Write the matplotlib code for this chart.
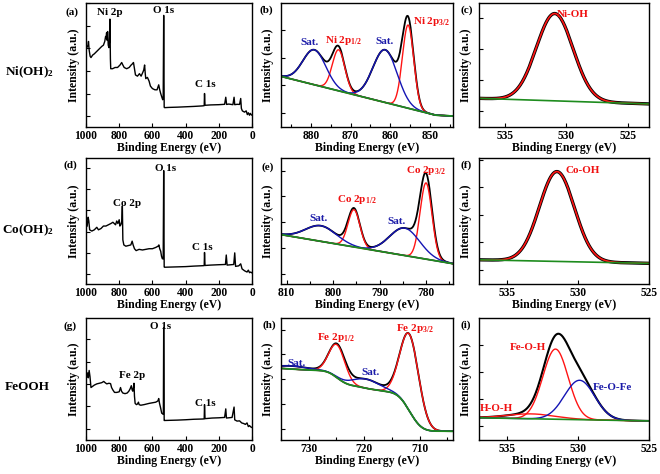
import numpy as np
import matplotlib.pyplot as plt
from matplotlib.ticker import MultipleLocator

plt.rcParams['font.family'] = ['Liberation Serif', 'DejaVu Serif']
plt.rcParams['font.weight'] = 'bold'
plt.rcParams['axes.labelweight'] = 'bold'
plt.rcParams['mathtext.fontset'] = 'custom'
plt.rcParams['mathtext.rm'] = 'Liberation Serif:bold'
plt.rcParams['mathtext.it'] = 'Liberation Serif:italic:bold'
plt.rcParams['mathtext.bf'] = 'Liberation Serif:bold'
plt.rcParams['mathtext.default'] = 'rm'

# ---- survey spectra (binding energy, intensity 0-100 of axis height) ----
a_be = [1000, 995, 988, 985, 981, 975, 970, 960, 950, 935, 920, 905, 895, 887, 882, 879, 876, 873,
        870, 866, 862, 859, 856, 853, 851, 840, 825, 810, 795, 785, 778, 770, 755, 740, 728, 720,
        714, 708, 702, 690, 678, 668, 658, 652, 647, 643, 640, 630, 620, 612, 600, 585, 572, 562,
        556, 550, 543, 538, 535, 532, 529, 527, 500, 450, 400, 350, 300, 288, 286, 283, 250, 200,
        165, 158, 153, 140, 115, 108, 104, 90, 75, 68, 64, 58, 45, 35, 28, 22, 15, 10, 5, 0]
a_int = [63, 64, 66, 69, 62, 57, 56, 58, 59, 61, 63, 65, 66, 69, 73, 72, 76, 70,
         77, 66, 64, 68, 87, 55, 47, 47, 48, 48, 50, 52, 50, 48, 47, 48, 50, 51,
         52, 47, 42, 41, 43, 41, 44, 46, 50, 43, 39, 40, 37, 33, 31, 30, 30, 34,
         30, 27, 24, 22, 23, 90, 16, 15.6, 15.8, 16, 16.3, 16.6, 17, 17.2, 27, 17.5, 17.8, 18,
         18.3, 24, 18.2, 18.5, 18, 24, 18, 18.3, 18.2, 23, 15, 13, 12, 13, 10, 11.5, 9.5, 11, 10, 9.5]

d_be = [1000, 993, 987, 983, 978, 965, 950, 935, 925, 910, 895, 880, 865, 850, 838, 830, 822, 815,
        808, 800, 796, 790, 784, 781, 778, 772, 760, 745, 730, 722, 716, 708, 698, 680, 660, 640,
        620, 600, 580, 566, 561, 556, 550, 545, 540, 535, 532, 529, 527, 450, 400, 350, 300, 288,
        286, 283, 250, 200, 160, 155, 150, 110, 104, 99, 80, 68, 60, 45, 30, 22, 15, 8, 0]
d_int = [45, 46, 53, 50, 43, 42, 43, 45, 43, 44, 46, 46, 47, 48, 49, 48, 47, 50,
         48, 51, 46, 47, 50, 62, 35, 31, 30, 30.5, 31, 34, 31, 28, 26.5, 27.5, 27, 27.5,
         28, 28, 29, 30, 31, 28, 26, 22, 20, 20, 90, 13.5, 13.3, 13.6, 13.8, 14.2, 14.5, 14.6,
         25, 14.7, 15, 15.3, 15.5, 23, 15, 15.5, 24.7, 14, 14.4, 16, 12, 10.5, 9.5, 11, 9, 9.5, 8.8]

g_be = [1000, 995, 990, 986, 981, 976, 970, 960, 950, 935, 920, 905, 893, 885, 875, 862, 852, 846,
        838, 828, 815, 800, 792, 786, 778, 765, 752, 742, 734, 727, 722, 718, 714, 711, 708, 704,
        696, 690, 684, 680, 670, 650, 620, 600, 580, 567, 562, 557, 550, 544, 538, 534, 532, 529,
        527, 450, 400, 350, 300, 288, 286, 283, 240, 200, 165, 158, 154, 120, 108, 104, 90, 75,
        62, 50, 40, 30, 22, 15, 8, 0]
g_int = [50, 52, 55, 51, 57, 52, 43, 44, 45, 46, 46.5, 47, 48, 47, 46, 46.5, 46.2, 43,
         41, 39, 39, 39.5, 43, 40, 38.5, 38, 38.5, 40, 42, 44.5, 41, 40, 43, 46.5, 36, 30,
         29, 29.5, 31, 29, 28.5, 29, 30, 30.5, 31, 32, 34, 30, 26, 22, 21.5, 21, 92, 16,
         16, 16.3, 16.6, 17, 17.2, 17.3, 29, 17.5, 18, 18.2, 18.5, 25.5, 18, 18.5, 27, 16.5, 15.5, 15.7,
         14, 13.5, 12.8, 14, 11, 11.8, 10.8, 10.2]

# ---- Ni 2p (b) ----
b_base_be = [887.5, 848.5, 844.2]
b_base_val = [40.8, 9.5, 8.8]
b_main_c = [873.0, 855.5]
b_main_a = [33.1, 67.1]
b_main_w = [3.7, 3.35]
b_sat_c = [879.1, 861.3]
b_sat_a = [28.2, 42.5]
b_sat_w = [6.8, 7.2]

# ---- Ni O 1s (c) ----
c_base_be = [537.1, 523.3]
c_base_val = [23.1, 18.6]
c_c, c_a, c_w = 530.95, 70.4, 3.5

# ---- Co 2p (e) ----
e_base_be = [811.2, 774.2]
e_base_val = [39.2, 16.1]
e_main_c = [795.5, 780.0]
e_main_a = [29.6, 60.5]
e_main_w = [3.0, 3.0]
e_sat_c = [802.6, 784.6]
e_sat_a = [12.4, 21.8]
e_sat_w = [7.8, 7.6]

# ---- Co O 1s (f) ----
f_base_be = [537.0, 525.0]
f_base_val = [19.2, 16.4]
f_c, f_a, f_w = 531.5, 71.3, 2.9

# ---- Fe 2p (h) ----
h_bg_low, h_bg_high = 7.2, 58.7
h_main_c = [724.9, 711.8]
h_main_a = [27.0, 63.0]
h_main_w = [3.4, 4.0]
h_sat_c = [733.0, 719.6]
h_sat_a = [2.5, 7.5]
h_sat_w = [7.0, 6.0]

# ---- Fe O 1s (i) ----
i_base_be = [537.0, 525.0]
i_base_val = [18.2, 15.6]
i_red_c = [531.6, 533.3]
i_red_a = [57.5, 4.0]
i_red_w = [2.1, 4.0]
i_blue_c = [529.9]
i_blue_a = [32.3]
i_blue_w = [2.5]

RED = '#ff1414'
BLUE = '#1414b4'
GREEN = '#1e8c1e'
TRED = '#f01010'
TBLUE = '#1a1aa8'


def gauss(x, c, a, w):
    return a * np.exp(-4 * np.log(2) * (x - c) ** 2 / w ** 2)


def setup(ax, xlim, xmaj, xmin, yticks, wpx):
    ax.set_xlim(xlim)
    ax.set_ylim(0, 100)
    ax.xaxis.set_major_locator(MultipleLocator(xmaj))
    if xmin:
        ax.xaxis.set_minor_locator(MultipleLocator(xmin))
    ax.set_yticks(yticks)
    ax.set_yticklabels([])
    ax.tick_params(direction='in', length=3, width=0.8, labelsize=8.3, pad=2)
    ax.tick_params(which='minor', direction='in', length=2, width=0.8)
    ax.set_xlabel('Binding Energy (eV)', fontsize=8.5, labelpad=0.5)
    ax.set_ylabel('Intensity (a.u.)', fontsize=8.5, va='center')
    ax.yaxis.set_label_coords(-12.5 / wpx, 0.5)
    for s in ax.spines.values():
        s.set_linewidth(1.0)


def lab(ax, x, y, s, color='black', size=8):
    ax.text(x, y, s, transform=ax.transAxes, ha='center', va='center',
            color=color, fontsize=size, fontweight='bold')


fig = plt.figure(figsize=(6.6, 4.74), dpi=100)
W, H = 660.0, 474.0
cols = [(86, 252), (281, 453), (479, 649)]
rows = [(3, 127), (158, 284), (318, 440)]


def make_ax(r, c):
    x0, x1 = cols[c]
    y0, y1 = rows[r]
    return fig.add_axes([x0 / W, 1 - y1 / H, (x1 - x0) / W, (y1 - y0) / H]), x1 - x0


# survey panels
surveys = [(a_be, a_int, [8.6, 26.9, 45.2, 63.5, 81.8, 100], ('Ni 2p', 0.145, 0.92), (0.47, 0.94), (0.72, 0.34)),
           (d_be, d_int, [8, 24.8, 41.6, 58.4, 75.2, 92], ('Co 2p', 0.25, 0.64), (0.48, 0.92), (0.70, 0.29)),
           (g_be, g_int, [9.4, 27.7, 46, 64.3, 82.6], ('Fe 2p', 0.28, 0.53), (0.45, 0.93), (0.72, 0.30))]
for r, (be, it, yt, m, o, cc) in enumerate(surveys):
    ax, wpx = make_ax(r, 0)
    ax.plot(be, it, color='black', lw=1.0)
    setup(ax, (1000, 0), 200, None, yt, wpx)
    lab(ax, m[1], m[2], m[0])
    lab(ax, o[0], o[1], 'O 1s')
    lab(ax, cc[0], cc[1], 'C 1s')

# Ni 2p
ax, wpx = make_ax(0, 1)
x = np.linspace(844.2, 887.5, 500)
bg = np.interp(x, b_base_be[::-1], b_base_val[::-1])
mains = [gauss(x, c, a, w) for c, a, w in zip(b_main_c, b_main_a, b_main_w)]
sats = [gauss(x, c, a, w) for c, a, w in zip(b_sat_c, b_sat_a, b_sat_w)]
ax.plot(x, bg + sum(mains) + sum(sats), color='black', lw=1.3)
for y in mains:
    ax.plot(x, bg + y, color=RED, lw=1.0)
for y in sats:
    ax.plot(x, bg + y, color=BLUE, lw=1.0)
ax.plot(x, bg, color=GREEN, lw=1.3)
setup(ax, (887.5, 844.2), 10, 5, [11.4, 33.6, 55.8, 78], wpx)
lab(ax, 0.165, 0.68, 'Sat.', TBLUE)
lab(ax, 0.365, 0.70, 'Ni 2p$_{1/2}$', TRED)
lab(ax, 0.60, 0.69, 'Sat.', TBLUE)
lab(ax, 0.875, 0.85, 'Ni 2p$_{3/2}$', TRED)

# Ni O 1s
ax, wpx = make_ax(0, 2)
x = np.linspace(523.3, 537.1, 400)
bg = np.interp(x, c_base_be[::-1], c_base_val[::-1])
pk = gauss(x, c_c, c_a, c_w)
ax.plot(x, bg + pk, color='black', lw=2.4)
ax.plot(x, bg + pk, color=RED, lw=1.2)
ax.plot(x, bg, color=GREEN, lw=1.2)
setup(ax, (537.1, 523.3), 5, None, [13, 37.9, 62.8, 87.7], wpx)
lab(ax, 0.55, 0.91, 'Ni-OH', TRED)

# Co 2p
ax, wpx = make_ax(1, 1)
x = np.linspace(774.2, 811.2, 500)
bg = np.interp(x, e_base_be[::-1], e_base_val[::-1])
mains = [gauss(x, c, a, w) for c, a, w in zip(e_main_c, e_main_a, e_main_w)]
sats = [gauss(x, c, a, w) for c, a, w in zip(e_sat_c, e_sat_a, e_sat_w)]
ax.plot(x, bg + sum(mains) + sum(sats), color='black', lw=1.3)
for y in mains:
    ax.plot(x, bg + y, color=RED, lw=1.0)
for y in sats:
    ax.plot(x, bg + y, color=BLUE, lw=1.0)
ax.plot(x, bg, color=GREEN, lw=1.3)
setup(ax, (811.2, 774.2), 10, 5, [8.2, 28.7, 49.1, 69.6, 90], wpx)
lab(ax, 0.22, 0.52, 'Sat.', TBLUE)
lab(ax, 0.44, 0.67, 'Co 2p$_{1/2}$', TRED)
lab(ax, 0.67, 0.50, 'Sat.', TBLUE)
lab(ax, 0.845, 0.90, 'Co 2p$_{3/2}$', TRED)

# Co O 1s
ax, wpx = make_ax(1, 2)
x = np.linspace(525, 537, 400)
bg = np.interp(x, f_base_be[::-1], f_base_val[::-1])
pk = gauss(x, f_c, f_a, f_w)
ax.plot(x, bg + pk, color='black', lw=2.4)
ax.plot(x, bg + pk, color=RED, lw=1.2)
ax.plot(x, bg, color=GREEN, lw=1.2)
setup(ax, (537, 525), 5, None, [11.5, 33.3, 55.1, 76.9, 98.7], wpx)
lab(ax, 0.61, 0.90, 'Co-OH', TRED)

# Fe 2p with Shirley-type background
ax, wpx = make_ax(2, 1)
x = np.linspace(704, 735, 600)
mains = [gauss(x, c, a, w) for c, a, w in zip(h_main_c, h_main_a, h_main_w)]
sats = [gauss(x, c, a, w) for c, a, w in zip(h_sat_c, h_sat_a, h_sat_w)]
sig = sum(mains) + sum(sats)
cum = np.concatenate([[0], np.cumsum((sig[1:] + sig[:-1]) / 2 * np.diff(x))])
bg = h_bg_low + (h_bg_high - h_bg_low) * cum / cum[-1]
ax.plot(x, bg + sig, color='black', lw=1.3)
for y in mains:
    ax.plot(x, bg + y, color=RED, lw=1.0)
for y in sats:
    ax.plot(x, bg + y, color=BLUE, lw=1.0)
ax.plot(x, bg, color=GREEN, lw=1.3)
setup(ax, (735, 704), 10, 5, [9.3, 29.6, 49.9, 70.2, 90.5], wpx)
lab(ax, 0.09, 0.63, 'Sat.', TBLUE)
lab(ax, 0.32, 0.84, 'Fe 2p$_{1/2}$', TRED)
lab(ax, 0.52, 0.55, 'Sat.', TBLUE)
lab(ax, 0.78, 0.91, 'Fe 2p$_{3/2}$', TRED)

# Fe O 1s
ax, wpx = make_ax(2, 2)
x = np.linspace(525, 537, 400)
bg = np.interp(x, i_base_be[::-1], i_base_val[::-1])
reds = [gauss(x, c, a, w) for c, a, w in zip(i_red_c, i_red_a, i_red_w)]
blues = [gauss(x, c, a, w) for c, a, w in zip(i_blue_c, i_blue_a, i_blue_w)]
ax.plot(x, bg + sum(reds) + sum(blues), color='black', lw=1.5)
for y in reds:
    ax.plot(x, bg + y, color=RED, lw=1.0)
for y in blues:
    ax.plot(x, bg + y, color=BLUE, lw=1.0)
ax.plot(x, bg, color=GREEN, lw=1.2)
setup(ax, (537, 525), 5, None, [11.2, 33.5, 55.8, 78], wpx)
lab(ax, 0.29, 0.76, 'Fe-O-H', TRED)
lab(ax, 0.785, 0.43, 'Fe-O-Fe', TBLUE)
lab(ax, 0.105, 0.26, 'H-O-H', TRED)

# panel letters and row names
letters = [('(a)', 71.5, 12), ('(b)', 266.5, 10), ('(c)', 467, 10),
           ('(d)', 70.5, 165), ('(e)', 267.5, 167), ('(f)', 466, 165),
           ('(g)', 70.5, 326), ('(h)', 269.5, 325), ('(i)', 466, 325)]
for s, px, py in letters:
    fig.text(px / W, 1 - py / H, s, ha='center', va='center', fontsize=8, fontweight='bold')

row_names = [('Ni(OH)$_2$', 29, 72), ('Co(OH)$_2$', 28, 230), ('FeOOH', 27.5, 387)]
for s, px, py in row_names:
    fig.text(px / W, 1 - py / H, s, ha='center', va='center', fontsize=9.5, fontweight='bold')

fig.savefig('out.png', dpi=100)
